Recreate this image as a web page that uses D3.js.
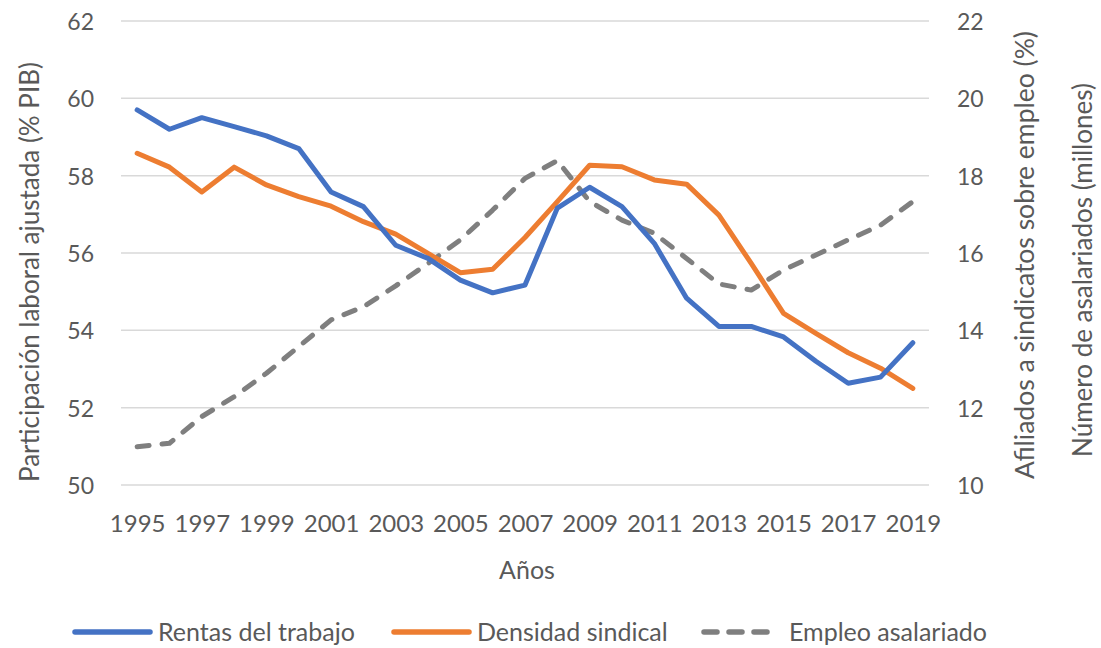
<!DOCTYPE html>
<html lang="es">
<head>
    <meta charset="UTF-8">
    <title>Rentas del trabajo, densidad sindical y empleo asalariado</title>
    <style>
        body { margin: 0; padding: 0; background: #fff; overflow: hidden; }
        svg { display: block; }
        text { font-family: Lato, "Open Sans", sans-serif; fill: #595959; }
    </style>
</head>
<body>
    <script src="https://d3js.org/d3.v7.min.js"></script>
    <script>
        // Years on the category axis
        const years = d3.range(1995, 2020);
        const yearTicks = years.filter(y => (y - 1995) % 2 === 0);

        // Left axis: labour share (% GDP)
        const rentas = [59.7, 59.2, 59.5, 59.27, 59.03, 58.7, 57.58, 57.2, 56.2, 55.86, 55.3, 54.97, 55.17,
            57.16, 57.7, 57.2, 56.25, 54.83, 54.1, 54.1, 53.83, 53.2, 52.63, 52.79, 53.68];
        // Right axis: union density (%)
        const densidad = [18.58, 18.22, 17.58, 18.22, 17.76, 17.46, 17.21, 16.81, 16.49, 15.99, 15.49, 15.58, 16.4,
            17.33, 18.27, 18.23, 17.89, 17.78, 16.98, 15.73, 14.44, 13.92, 13.42, 13.02, 12.5];
        // Right axis: salaried employment (millions)
        const empleo = [10.99, 11.08, 11.77, 12.28, 12.89, 13.58, 14.27, 14.61, 15.15, 15.73, 16.34, 17.11, 17.93,
            18.39, 17.33, 16.85, 16.51, 15.86, 15.2, 15.04, 15.56, 15.95, 16.34, 16.72, 17.33];

        const leftTicks = [50, 52, 54, 56, 58, 60, 62];
        const rightTicks = [10, 12, 14, 16, 18, 20, 22];

        const width = 1101, height = 648;
        const plot = { left: 121, right: 929, top: 21, bottom: 485 };

        const svg = d3.select("body").append("svg")
            .attr("width", width)
            .attr("height", height);

        const x = d3.scalePoint()
            .domain(years)
            .range([plot.left, plot.right])
            .padding(0.5);

        const yLeft = d3.scaleLinear().domain([50, 62]).range([plot.bottom, plot.top]);
        const yRight = d3.scaleLinear().domain([10, 22]).range([plot.bottom, plot.top]);

        // gridlines
        svg.append("g")
            .selectAll("line")
            .data(leftTicks)
            .join("line")
            .attr("x1", plot.left)
            .attr("x2", plot.right)
            .attr("y1", d => yLeft(d))
            .attr("y2", d => yLeft(d))
            .attr("stroke", "#d9d9d9")
            .attr("stroke-width", 1.5);

        // left axis labels
        const leftAxis = svg.append("g")
            .attr("transform", `translate(${plot.left - 27},1)`)
            .call(d3.axisLeft(yLeft).tickValues(leftTicks).tickSize(0).tickPadding(0));
        leftAxis.select(".domain").remove();
        leftAxis.selectAll("text")
            .attr("font-size", 23)
            .attr("fill", "#595959")
            .style("font-family", "Lato, sans-serif");

        // right axis labels
        const rightAxis = svg.append("g")
            .attr("transform", `translate(${plot.right + 28},1)`)
            .call(d3.axisRight(yRight).tickValues(rightTicks).tickSize(0).tickPadding(0));
        rightAxis.select(".domain").remove();
        rightAxis.selectAll("text")
            .attr("font-size", 23)
            .attr("fill", "#595959")
            .style("font-family", "Lato, sans-serif");

        // x axis labels
        const xAxis = svg.append("g")
            .attr("transform", `translate(0,${plot.bottom + 30})`)
            .call(d3.axisBottom(x).tickValues(yearTicks).tickSize(0).tickPadding(0));
        xAxis.select(".domain").remove();
        xAxis.selectAll("text")
            .attr("font-size", 24)
            .attr("fill", "#595959")
            .style("font-family", "Lato, sans-serif");

        // axis titles
        svg.append("text")
            .attr("x", (plot.left + plot.right) / 2 + 2)
            .attr("y", 579)
            .attr("text-anchor", "middle")
            .attr("font-size", 25)
            .text("Años");

        svg.append("text")
            .attr("transform", "translate(39,272) rotate(-90)")
            .attr("text-anchor", "middle")
            .attr("font-size", 26)
            .text("Participación laboral ajustada (% PIB)");

        svg.append("text")
            .attr("transform", "translate(1034,255) rotate(-90)")
            .attr("text-anchor", "middle")
            .attr("font-size", 26.5)
            .text("Afiliados a sindicatos sobre empleo (%)");

        svg.append("text")
            .attr("transform", "translate(1092,270) rotate(-90)")
            .attr("text-anchor", "middle")
            .attr("font-size", 26)
            .text("Número de asalariados (millones)");

        // series
        const series = [
            { name: "Rentas del trabajo", values: rentas, scale: yLeft, color: "#4472C4", dash: null },
            { name: "Densidad sindical", values: densidad, scale: yRight, color: "#ED7D31", dash: null },
            { name: "Empleo asalariado", values: empleo, scale: yRight, color: "#7F7F7F", dash: "12,13" }
        ];

        const drawOrder = [series[2], series[1], series[0]];
        drawOrder.forEach(s => {
            const line = d3.line()
                .x((d, i) => x(years[i]))
                .y(d => s.scale(d));
            svg.append("path")
                .datum(s.values)
                .attr("d", line)
                .attr("fill", "none")
                .attr("stroke", s.color)
                .attr("stroke-width", 5)
                .attr("stroke-linejoin", "round")
                .attr("stroke-linecap", "round")
                .attr("stroke-dasharray", s.dash);
        });

        // legend
        const legendX = [72, 391, 701];
        const legend = svg.append("g").attr("transform", "translate(0,632)");
        series.forEach((s, i) => {
            const g = legend.append("g").attr("transform", `translate(${legendX[i]},0)`);
            g.append("line")
                .attr("x1", 3)
                .attr("x2", s.dash ? 72 : 78)
                .attr("stroke", s.color)
                .attr("stroke-width", 5.5)
                .attr("stroke-linecap", "round")
                .attr("stroke-dasharray", s.dash ? "13,12" : null);
            g.append("text")
                .attr("x", s.dash ? 88 : 86)
                .attr("y", 9)
                .attr("font-size", 25)
                .text(s.name);
        });
    </script>
</body>
</html>
